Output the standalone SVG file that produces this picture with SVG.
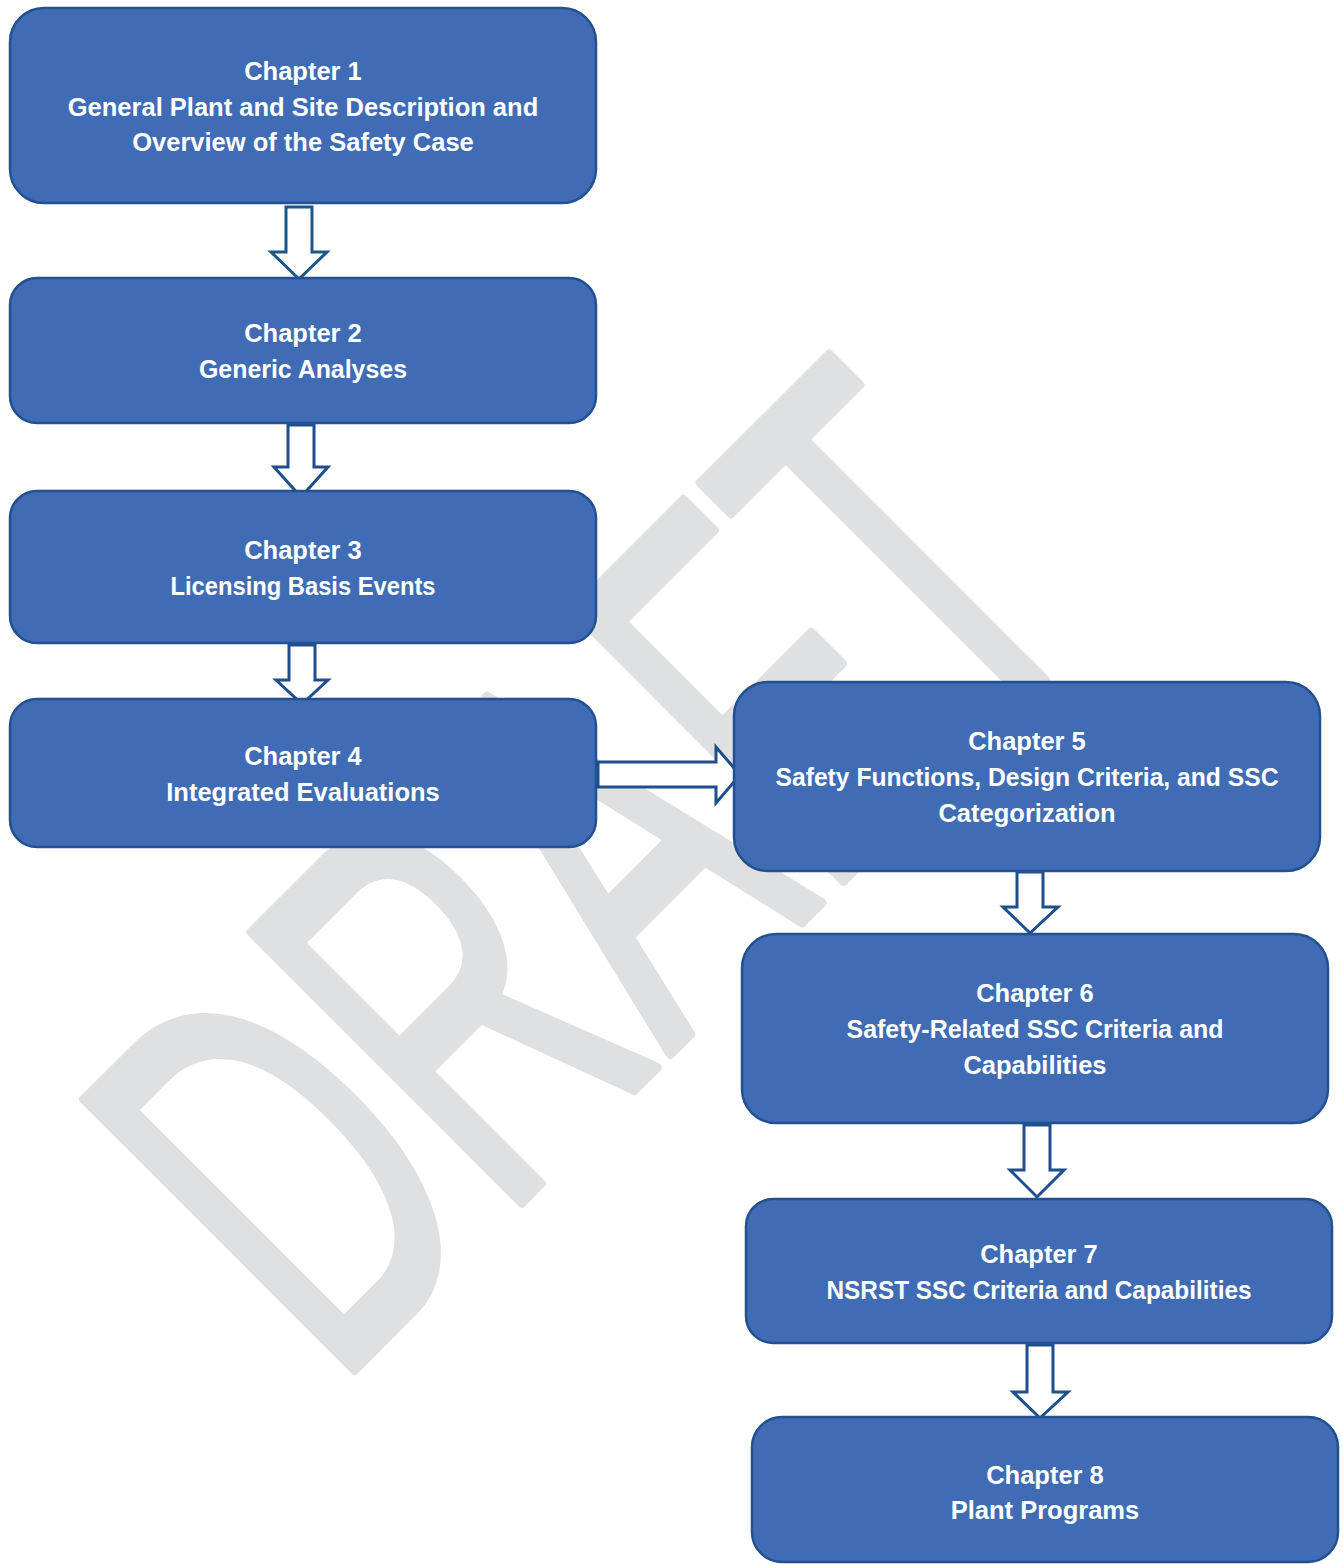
<svg xmlns="http://www.w3.org/2000/svg" width="1343" height="1564" viewBox="0 0 1343 1564">
<style>
.box{fill:#3f6cb4;stroke:#23508e;stroke-width:2.5}
.t{font-family:"Liberation Sans",Arial,sans-serif;font-weight:bold;font-size:25.5px;fill:#ffffff;text-anchor:middle}
.arr{fill:#ffffff;stroke:#1f4e8c;stroke-width:3;stroke-linejoin:miter}
.wm{font-family:"Liberation Sans",Arial,sans-serif;font-size:555px;fill:#dfe0e2;stroke:#dfe0e2;stroke-width:10;stroke-linejoin:round;text-anchor:middle}
</style>
<rect width="1343" height="1564" fill="#ffffff"/>
<g id="watermark">
<text class="wm" transform="translate(720,1004) rotate(-45) scale(0.59,1)" x="0" y="0">DRAFT</text>
</g>
<g id="connectors">
<path class="arr" d="M286,207 H312 V252 H327 L299,279 L271,252 H286 Z" style="stroke:#1a5688"/>
<path class="arr" d="M288,425 H314 V467 H328 L301,497 L274,467 H288 Z"/>
<path class="arr" d="M289,645 H315 V680 H328 L302,704 L276,680 H289 Z"/>
<path class="arr" d="M598,762 H716 V747 L740,775 L716,803 V787 H598 Z"/>
<path class="arr" d="M1017,872 H1043 V907 H1058 L1030,933 L1003,907 H1017 Z"/>
<path class="arr" d="M1024,1125 H1050 V1170 H1064 L1037,1197 L1010,1170 H1024 Z"/>
<path class="arr" d="M1027,1345 H1053 V1392 H1068 L1040,1418 L1013,1392 H1027 Z"/>
</g>
<g id="ch1">
<rect class="box" x="10" y="8" width="586" height="195" rx="34"/>
<text class="t" x="303" y="80">Chapter 1</text>
<text class="t" x="303" y="116">General Plant and Site Description and</text>
<text class="t" x="303" y="151">Overview of the Safety Case</text>
</g>
<g id="ch2">
<rect class="box" x="10" y="278" width="586" height="145" rx="27"/>
<text class="t" x="303" y="342">Chapter 2</text>
<text class="t" x="303" y="378" textLength="208" lengthAdjust="spacingAndGlyphs">Generic Analyses</text>
</g>
<g id="ch3">
<rect class="box" x="10" y="491" width="586" height="152" rx="27"/>
<text class="t" x="303" y="559">Chapter 3</text>
<text class="t" x="303" y="595" textLength="265" lengthAdjust="spacingAndGlyphs">Licensing Basis Events</text>
</g>
<g id="ch4">
<rect class="box" x="10" y="699" width="586" height="148" rx="27"/>
<text class="t" x="303" y="765">Chapter 4</text>
<text class="t" x="303" y="801">Integrated Evaluations</text>
</g>
<g id="ch5">
<rect class="box" x="734" y="682" width="586" height="189" rx="34"/>
<text class="t" x="1027" y="750">Chapter 5</text>
<text class="t" x="1027" y="786" textLength="503" lengthAdjust="spacingAndGlyphs">Safety Functions, Design Criteria, and SSC</text>
<text class="t" x="1027" y="822">Categorization</text>
</g>
<g id="ch6">
<rect class="box" x="742" y="934" width="586" height="189" rx="34"/>
<text class="t" x="1035" y="1002">Chapter 6</text>
<text class="t" x="1035" y="1038" textLength="377" lengthAdjust="spacingAndGlyphs">Safety-Related SSC Criteria and</text>
<text class="t" x="1035" y="1074">Capabilities</text>
</g>
<g id="ch7">
<rect class="box" x="746" y="1199" width="586" height="144" rx="27"/>
<text class="t" x="1039" y="1263">Chapter 7</text>
<text class="t" x="1039" y="1299" textLength="425" lengthAdjust="spacingAndGlyphs">NSRST SSC Criteria and Capabilities</text>
</g>
<g id="ch8">
<rect class="box" x="752" y="1417" width="586" height="145" rx="30"/>
<text class="t" x="1045" y="1484">Chapter 8</text>
<text class="t" x="1045" y="1519">Plant Programs</text>
</g>
</svg>
